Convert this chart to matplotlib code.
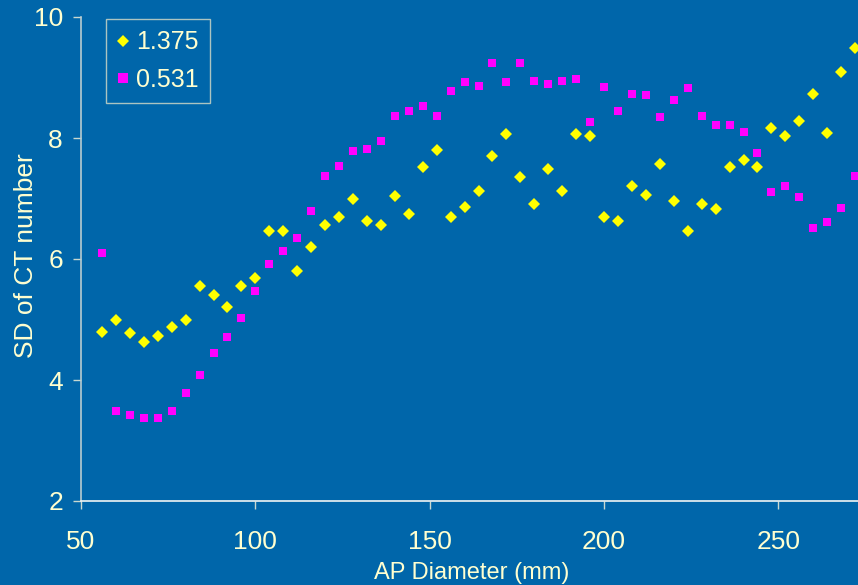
import matplotlib
matplotlib.use("Agg")
import matplotlib.pyplot as plt

# ---- data ----
ap_diameter = list(range(56, 273, 4))
sd_1375 = [4.80, 5.00, 4.77, 4.62, 4.72, 4.88, 5.00, 5.56, 5.40, 5.20,
           5.56, 5.68, 6.46, 6.46, 5.80, 6.20, 6.56, 6.70, 6.99, 6.62,
           6.56, 7.04, 6.75, 7.52, 7.80, 6.70, 6.86, 7.12, 7.70, 8.07,
           7.36, 6.91, 7.48, 7.12, 8.07, 8.04, 6.70, 6.62, 7.20, 7.06,
           7.57, 6.96, 6.46, 6.91, 6.83, 7.52, 7.64, 7.52, 8.17, 8.04,
           8.28, 8.72, 8.09, 9.09, 9.49]
sd_0531 = [6.10, 3.49, 3.42, 3.37, 3.37, 3.49, 3.78, 4.09, 4.44, 4.71,
           5.02, 5.47, 5.91, 6.13, 6.34, 6.79, 7.37, 7.53, 7.79, 7.81,
           7.95, 8.37, 8.45, 8.53, 8.37, 8.77, 8.92, 8.86, 9.24, 8.92,
           9.24, 8.95, 8.89, 8.95, 8.98, 8.26, 8.84, 8.45, 8.73, 8.71,
           8.35, 8.63, 8.82, 8.37, 8.21, 8.21, 8.10, 7.76, 7.11, 7.21,
           7.02, 6.52, 6.61, 6.84, 7.37]
series_labels = ["1.375", "0.531"]
x_ticks = [50, 100, 150, 200, 250]
y_ticks = [2, 4, 6, 8, 10]
x_label = "AP Diameter (mm)"
y_label = "SD of CT number"

BG = "#0066AA"
TXT = "#FFFFD0"

plt.rcParams['font.family'] = ['Liberation Sans', 'DejaVu Sans']

fig = plt.figure(figsize=(8.58, 5.85), dpi=100, facecolor=BG)
W, H = 858, 585
left, right, top, bottom = 81, 858, 17, 501
ax = fig.add_axes([left / W, 1 - bottom / H, (right - left) / W, (bottom - top) / H])
ax.set_facecolor(BG)

ax.plot(ap_diameter, sd_1375, linestyle='none', marker='D', ms=6.0,
        color='#FFFF00', markeredgewidth=0, label=series_labels[0], clip_on=False)
ax.plot(ap_diameter, sd_0531, linestyle='none', marker='s', ms=6.2,
        color='#FF00FF', markeredgewidth=0, label=series_labels[1], clip_on=False)

ax.set_xlim(50, 50 + (right - left) / 3.487)
ax.set_ylim(2, 10)
ax.set_xticks(x_ticks)
ax.set_yticks(y_ticks)

for s in ['top', 'right']:
    ax.spines[s].set_visible(False)
ax.spines['left'].set_color('#B8CCD0')
ax.spines['bottom'].set_color('#F0F4F4')
ax.spines['left'].set_linewidth(1.2)
ax.spines['bottom'].set_linewidth(1.2)

ax.tick_params(axis='x', colors='#C8D8D0', length=6, width=1, pad=15,
               labelsize=19, labelcolor=TXT)
ax.tick_params(axis='y', colors='#C8D8D0', length=6, width=1, pad=7,
               labelsize=19, labelcolor=TXT)

ax.set_xlabel(x_label, fontsize=17, color=TXT)
ax.xaxis.set_label_coords(0.5026, -0.126)
ax.set_ylabel(y_label, fontsize=19, color=TXT)
ax.yaxis.set_label_coords(-0.055, 0.507)

leg = ax.legend(loc='upper left', bbox_to_anchor=(106 / W, 1 - 19 / H),
                bbox_transform=fig.transFigure, borderaxespad=0,
                fontsize=18, frameon=True, fancybox=False,
                handletextpad=0.3, borderpad=0.45, labelspacing=0.55,
                handlelength=0.45, markerscale=1.05)
leg.get_frame().set_facecolor(BG)
leg.get_frame().set_edgecolor('#D8DCC8')
leg.get_frame().set_linewidth(1.0)
for t in leg.get_texts():
    t.set_color(TXT)

fig.savefig("out.png", dpi=100, facecolor=BG)
